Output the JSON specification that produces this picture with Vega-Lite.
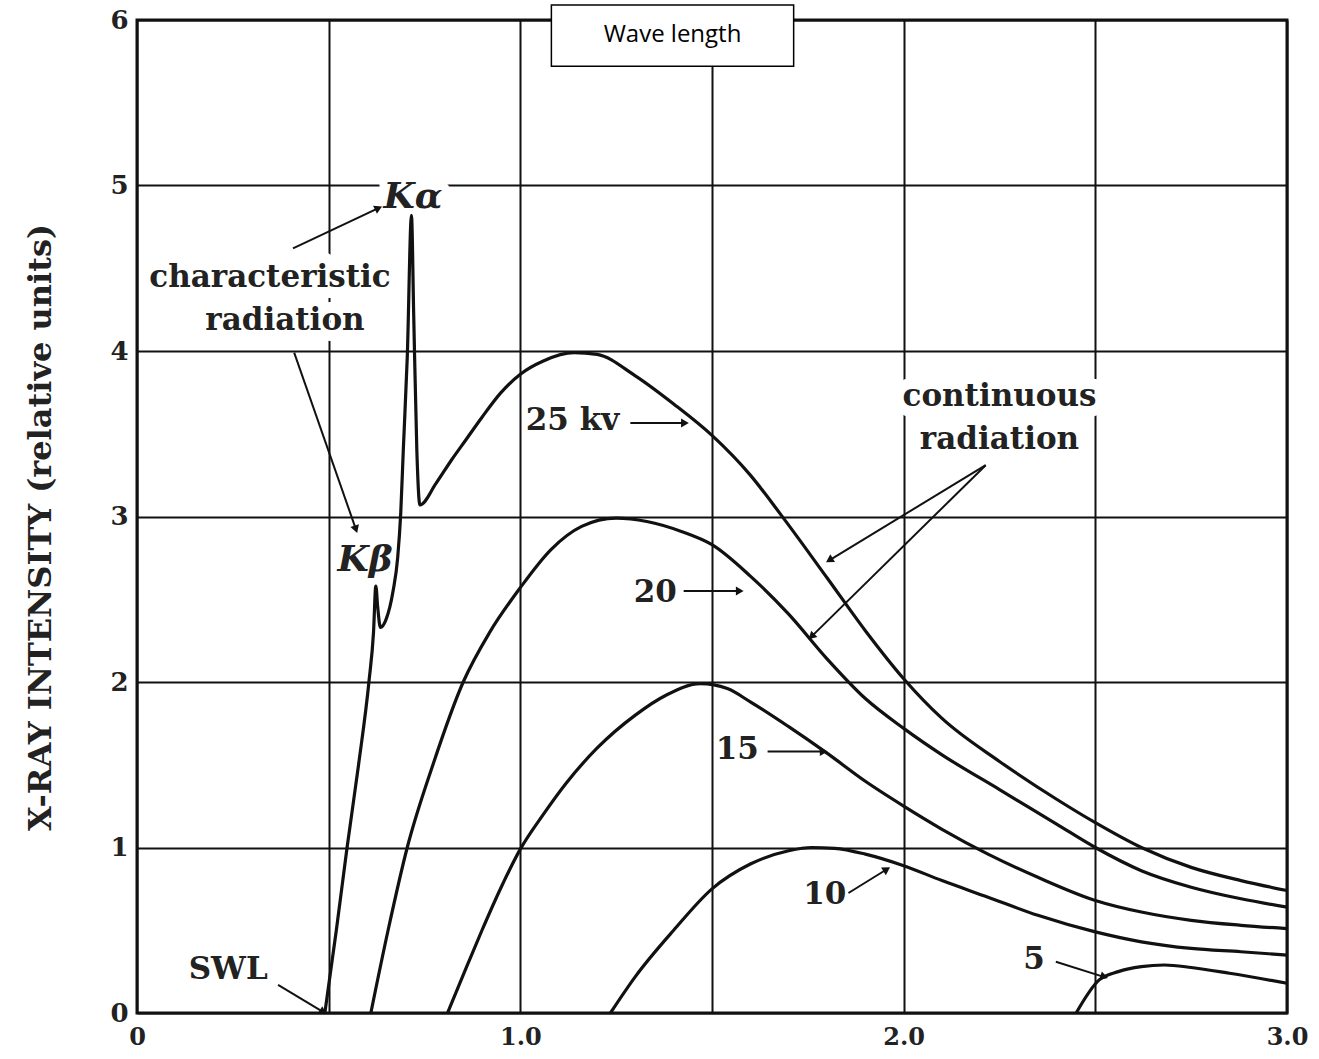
{
  "$schema": "https://vega.github.io/schema/vega-lite/v6.json",
  "width": 1150,
  "height": 993,
  "autosize": {"type": "none"},
  "padding": {"left": 137, "top": 20, "right": 32, "bottom": 46},
  "background": "white",
  "config": {
    "view": {"stroke": "#111", "strokeWidth": 3},
    "font": "DejaVu Serif"
  },
  "datasets": {
    "curves": [
      {"kv": "25", "x": 0.49, "y": 0},
      {"kv": "25", "x": 0.52, "y": 0.5},
      {"kv": "25", "x": 0.548, "y": 1.0},
      {"kv": "25", "x": 0.578, "y": 1.5},
      {"kv": "25", "x": 0.605, "y": 2.0},
      {"kv": "25", "x": 0.617, "y": 2.3},
      {"kv": "25", "x": 0.623, "y": 2.58},
      {"kv": "25", "x": 0.628, "y": 2.45},
      {"kv": "25", "x": 0.635, "y": 2.33},
      {"kv": "25", "x": 0.65, "y": 2.38},
      {"kv": "25", "x": 0.668, "y": 2.55},
      {"kv": "25", "x": 0.68, "y": 2.75},
      {"kv": "25", "x": 0.688, "y": 3.02},
      {"kv": "25", "x": 0.695, "y": 3.42},
      {"kv": "25", "x": 0.705, "y": 3.96},
      {"kv": "25", "x": 0.716, "y": 4.82},
      {"kv": "25", "x": 0.722, "y": 4.2},
      {"kv": "25", "x": 0.73, "y": 3.4},
      {"kv": "25", "x": 0.738, "y": 3.07},
      {"kv": "25", "x": 0.78, "y": 3.2},
      {"kv": "25", "x": 0.82, "y": 3.34},
      {"kv": "25", "x": 0.86, "y": 3.47},
      {"kv": "25", "x": 0.9, "y": 3.6},
      {"kv": "25", "x": 0.95, "y": 3.75},
      {"kv": "25", "x": 1.0, "y": 3.86},
      {"kv": "25", "x": 1.06, "y": 3.94},
      {"kv": "25", "x": 1.14, "y": 3.99},
      {"kv": "25", "x": 1.2, "y": 3.98},
      {"kv": "25", "x": 1.3, "y": 3.85},
      {"kv": "25", "x": 1.4, "y": 3.68},
      {"kv": "25", "x": 1.5, "y": 3.49},
      {"kv": "25", "x": 1.6, "y": 3.25},
      {"kv": "25", "x": 1.68, "y": 3.01},
      {"kv": "25", "x": 1.8, "y": 2.63},
      {"kv": "25", "x": 1.9, "y": 2.31},
      {"kv": "25", "x": 2.0, "y": 2.02},
      {"kv": "25", "x": 2.1, "y": 1.78},
      {"kv": "25", "x": 2.25, "y": 1.52},
      {"kv": "25", "x": 2.4, "y": 1.29},
      {"kv": "25", "x": 2.5, "y": 1.15},
      {"kv": "25", "x": 2.62, "y": 1.0},
      {"kv": "25", "x": 2.75, "y": 0.88},
      {"kv": "25", "x": 2.88, "y": 0.8},
      {"kv": "25", "x": 3.0, "y": 0.74},
      {"kv": "20", "x": 0.61, "y": 0},
      {"kv": "20", "x": 0.655, "y": 0.5},
      {"kv": "20", "x": 0.705, "y": 1.0},
      {"kv": "20", "x": 0.772, "y": 1.5},
      {"kv": "20", "x": 0.851, "y": 2.0},
      {"kv": "20", "x": 0.92, "y": 2.3},
      {"kv": "20", "x": 1.0, "y": 2.57},
      {"kv": "20", "x": 1.08, "y": 2.8},
      {"kv": "20", "x": 1.16, "y": 2.94},
      {"kv": "20", "x": 1.25, "y": 2.99},
      {"kv": "20", "x": 1.33, "y": 2.97},
      {"kv": "20", "x": 1.42, "y": 2.91},
      {"kv": "20", "x": 1.5, "y": 2.83},
      {"kv": "20", "x": 1.6, "y": 2.64},
      {"kv": "20", "x": 1.7, "y": 2.41},
      {"kv": "20", "x": 1.8, "y": 2.14},
      {"kv": "20", "x": 1.9, "y": 1.9},
      {"kv": "20", "x": 2.0, "y": 1.72},
      {"kv": "20", "x": 2.1, "y": 1.56},
      {"kv": "20", "x": 2.25, "y": 1.35},
      {"kv": "20", "x": 2.4, "y": 1.14},
      {"kv": "20", "x": 2.5, "y": 1.0},
      {"kv": "20", "x": 2.62, "y": 0.86},
      {"kv": "20", "x": 2.75, "y": 0.76},
      {"kv": "20", "x": 2.88, "y": 0.69},
      {"kv": "20", "x": 3.0, "y": 0.64},
      {"kv": "15", "x": 0.81, "y": 0},
      {"kv": "15", "x": 0.86, "y": 0.28},
      {"kv": "15", "x": 0.9, "y": 0.5},
      {"kv": "15", "x": 0.95, "y": 0.76},
      {"kv": "15", "x": 1.0, "y": 0.99},
      {"kv": "15", "x": 1.06, "y": 1.2},
      {"kv": "15", "x": 1.12, "y": 1.39},
      {"kv": "15", "x": 1.2, "y": 1.6},
      {"kv": "15", "x": 1.3, "y": 1.8},
      {"kv": "15", "x": 1.38, "y": 1.92},
      {"kv": "15", "x": 1.47, "y": 1.99},
      {"kv": "15", "x": 1.54, "y": 1.96},
      {"kv": "15", "x": 1.6, "y": 1.88},
      {"kv": "15", "x": 1.7, "y": 1.73},
      {"kv": "15", "x": 1.8, "y": 1.57},
      {"kv": "15", "x": 1.9, "y": 1.4},
      {"kv": "15", "x": 2.0, "y": 1.25},
      {"kv": "15", "x": 2.1, "y": 1.11},
      {"kv": "15", "x": 2.22, "y": 0.96},
      {"kv": "15", "x": 2.35, "y": 0.82},
      {"kv": "15", "x": 2.5, "y": 0.68},
      {"kv": "15", "x": 2.62, "y": 0.61},
      {"kv": "15", "x": 2.75, "y": 0.56},
      {"kv": "15", "x": 2.88, "y": 0.53},
      {"kv": "15", "x": 3.0, "y": 0.51},
      {"kv": "10", "x": 1.235, "y": 0},
      {"kv": "10", "x": 1.3, "y": 0.22},
      {"kv": "10", "x": 1.4, "y": 0.5},
      {"kv": "10", "x": 1.5, "y": 0.75},
      {"kv": "10", "x": 1.6, "y": 0.9},
      {"kv": "10", "x": 1.7, "y": 0.98},
      {"kv": "10", "x": 1.76, "y": 1.0},
      {"kv": "10", "x": 1.82, "y": 0.995},
      {"kv": "10", "x": 1.9, "y": 0.96},
      {"kv": "10", "x": 2.0, "y": 0.89},
      {"kv": "10", "x": 2.1, "y": 0.8},
      {"kv": "10", "x": 2.22, "y": 0.7},
      {"kv": "10", "x": 2.35, "y": 0.59},
      {"kv": "10", "x": 2.5, "y": 0.49},
      {"kv": "10", "x": 2.62, "y": 0.43},
      {"kv": "10", "x": 2.75, "y": 0.39},
      {"kv": "10", "x": 2.88, "y": 0.37},
      {"kv": "10", "x": 3.0, "y": 0.35},
      {"kv": "5", "x": 2.45, "y": 0},
      {"kv": "5", "x": 2.51, "y": 0.2},
      {"kv": "5", "x": 2.56, "y": 0.25},
      {"kv": "5", "x": 2.62, "y": 0.28},
      {"kv": "5", "x": 2.68, "y": 0.29},
      {"kv": "5", "x": 2.75, "y": 0.275},
      {"kv": "5", "x": 2.85, "y": 0.24},
      {"kv": "5", "x": 3.0, "y": 0.18}
    ],
    "arrows": [
      {"x": 0.407, "y": 4.62, "x2": 0.627, "y2": 4.86, "angle": 64.5},
      {"x": 0.41, "y": 3.99, "x2": 0.57, "y2": 2.93, "angle": 161},
      {"x": 0.368, "y": 0.17, "x2": 0.483, "y2": 0.01, "angle": 121.5},
      {"x": 1.287, "y": 3.565, "x2": 1.426, "y2": 3.565, "angle": 90},
      {"x": 1.426, "y": 2.55, "x2": 1.569, "y2": 2.55, "angle": 90},
      {"x": 1.645, "y": 1.58, "x2": 1.788, "y2": 1.58, "angle": 90},
      {"x": 1.856, "y": 0.725, "x2": 1.953, "y2": 0.864, "angle": 58},
      {"x": 2.397, "y": 0.31, "x2": 2.52, "y2": 0.22, "angle": 107},
      {"x": 2.214, "y": 3.31, "x2": 1.809, "y2": 2.74, "angle": 238.5},
      {"x": 2.214, "y": 3.31, "x2": 1.762, "y2": 2.28, "angle": 225.5}
    ],
    "labels": [
      {"text": "characteristic", "x": 0.347, "y": 4.44},
      {"text": "radiation", "x": 0.386, "y": 4.18},
      {"text": "SWL", "x": 0.238, "y": 0.26},
      {"text": "25 kv", "x": 1.136, "y": 3.58},
      {"text": "20", "x": 1.352, "y": 2.54},
      {"text": "15", "x": 1.566, "y": 1.59},
      {"text": "10", "x": 1.794, "y": 0.71},
      {"text": "5", "x": 2.34, "y": 0.32},
      {"text": "continuous", "x": 2.25, "y": 3.72},
      {"text": "radiation", "x": 2.25, "y": 3.46}
    ],
    "italics": [
      {"text": "Kα", "x": 0.72, "y": 4.93},
      {"text": "Kβ", "x": 0.595, "y": 2.74}
    ],
    "box": [
      {"text": "Wave length", "x": 1.081, "x2": 1.713, "y": 6.09, "y2": 5.72, "cx": 1.397, "cy": 5.91}
    ]
  },
  "layer": [
    {
      "data": {"name": "labels"},
      "transform": [{"filter": "indexof(['characteristic', 'radiation', 'continuous'], datum.text) >= 0"}],
      "mark": {"type": "text", "font": "DejaVu Serif", "fontWeight": "bold", "fontSize": 31, "stroke": "white", "strokeWidth": 22, "strokeJoin": "round", "fill": "white", "align": "center", "baseline": "middle"},
      "encoding": {
        "x": {
          "field": "x", "type": "quantitative",
          "scale": {"domain": [0, 3], "nice": false, "zero": false},
          "axis": {
            "values": [0, 0.5, 1, 1.5, 2, 2.5, 3],
            "labelExpr": "datum.value == 0 ? '0' : (datum.value % 1 == 0 ? format(datum.value, '.1f') : '')",
            "grid": true, "gridColor": "#111", "gridWidth": 2, "gridOpacity": 1,
            "ticks": false, "domain": false, "labelFlush": false,
            "labelFont": "DejaVu Serif", "labelFontWeight": "bold", "labelFontSize": 24,
            "labelColor": "#222", "labelPadding": 12, "title": null
          }
        },
        "y": {
          "field": "y", "type": "quantitative",
          "scale": {"domain": [0, 6], "nice": false},
          "axis": {
            "values": [0, 1, 2, 3, 4, 5, 6],
            "format": "d",
            "grid": true, "gridColor": "#111", "gridWidth": 2, "gridOpacity": 1,
            "ticks": false, "domain": false, "labelFlush": false,
            "labelFont": "DejaVu Serif", "labelFontWeight": "bold", "labelFontSize": 26,
            "labelColor": "#222", "labelPadding": 9,
            "title": "X-RAY INTENSITY  (relative units)",
            "titleFont": "DejaVu Serif", "titleFontWeight": "bold", "titleFontSize": 32,
            "titleColor": "#222", "titleAngle": -90, "titleX": -97, "titleY": 507,
            "titleAlign": "center", "titleBaseline": "middle"
          }
        },
        "text": {"field": "text"}
      }
    },
    {
      "data": {"name": "italics"},
      "transform": [{"filter": "datum.text == 'Kα'"}],
      "mark": {"type": "text", "font": "DejaVu Serif", "fontWeight": "bold", "fontStyle": "italic", "fontSize": 36, "stroke": "white", "strokeWidth": 16, "strokeJoin": "round", "fill": "white", "align": "center", "baseline": "middle"},
      "encoding": {
        "x": {"field": "x", "type": "quantitative"},
        "y": {"field": "y", "type": "quantitative"},
        "text": {"field": "text"}
      }
    },
    {
      "data": {"name": "curves"},
      "mark": {"type": "line", "color": "#111", "strokeWidth": 3.2, "interpolate": "monotone"},
      "encoding": {
        "x": {"field": "x", "type": "quantitative"},
        "y": {"field": "y", "type": "quantitative"},
        "detail": {"field": "kv", "type": "nominal"}
      }
    },
    {
      "data": {"name": "arrows"},
      "mark": {"type": "rule", "color": "#111", "strokeWidth": 2},
      "encoding": {
        "x": {"field": "x", "type": "quantitative"},
        "y": {"field": "y", "type": "quantitative"},
        "x2": {"field": "x2"},
        "y2": {"field": "y2"}
      }
    },
    {
      "data": {"name": "arrows"},
      "mark": {"type": "point", "shape": "triangle", "filled": true, "color": "#111", "size": 80, "opacity": 1},
      "encoding": {
        "x": {"field": "x2", "type": "quantitative"},
        "y": {"field": "y2", "type": "quantitative"},
        "angle": {"field": "angle", "type": "quantitative", "scale": null}
      }
    },
    {
      "data": {"name": "labels"},
      "mark": {"type": "text", "font": "DejaVu Serif", "fontWeight": "bold", "fontSize": 31, "color": "#222", "align": "center", "baseline": "middle"},
      "encoding": {
        "x": {"field": "x", "type": "quantitative"},
        "y": {"field": "y", "type": "quantitative"},
        "text": {"field": "text"}
      }
    },
    {
      "data": {"name": "italics"},
      "mark": {"type": "text", "font": "DejaVu Serif", "fontWeight": "bold", "fontStyle": "italic", "fontSize": 36, "color": "#222", "align": "center", "baseline": "middle"},
      "encoding": {
        "x": {"field": "x", "type": "quantitative"},
        "y": {"field": "y", "type": "quantitative"},
        "text": {"field": "text"}
      }
    },
    {
      "data": {"name": "box"},
      "mark": {"type": "rect", "fill": "white", "stroke": "black", "strokeWidth": 1.5},
      "encoding": {
        "x": {"field": "x", "type": "quantitative"},
        "x2": {"field": "x2"},
        "y": {"field": "y", "type": "quantitative"},
        "y2": {"field": "y2"}
      }
    },
    {
      "data": {"name": "box"},
      "mark": {"type": "text", "font": "Open Sans", "fontSize": 24, "color": "black", "align": "center", "baseline": "middle"},
      "encoding": {
        "x": {"field": "cx", "type": "quantitative"},
        "y": {"field": "cy", "type": "quantitative"},
        "text": {"field": "text"}
      }
    }
  ]
}
